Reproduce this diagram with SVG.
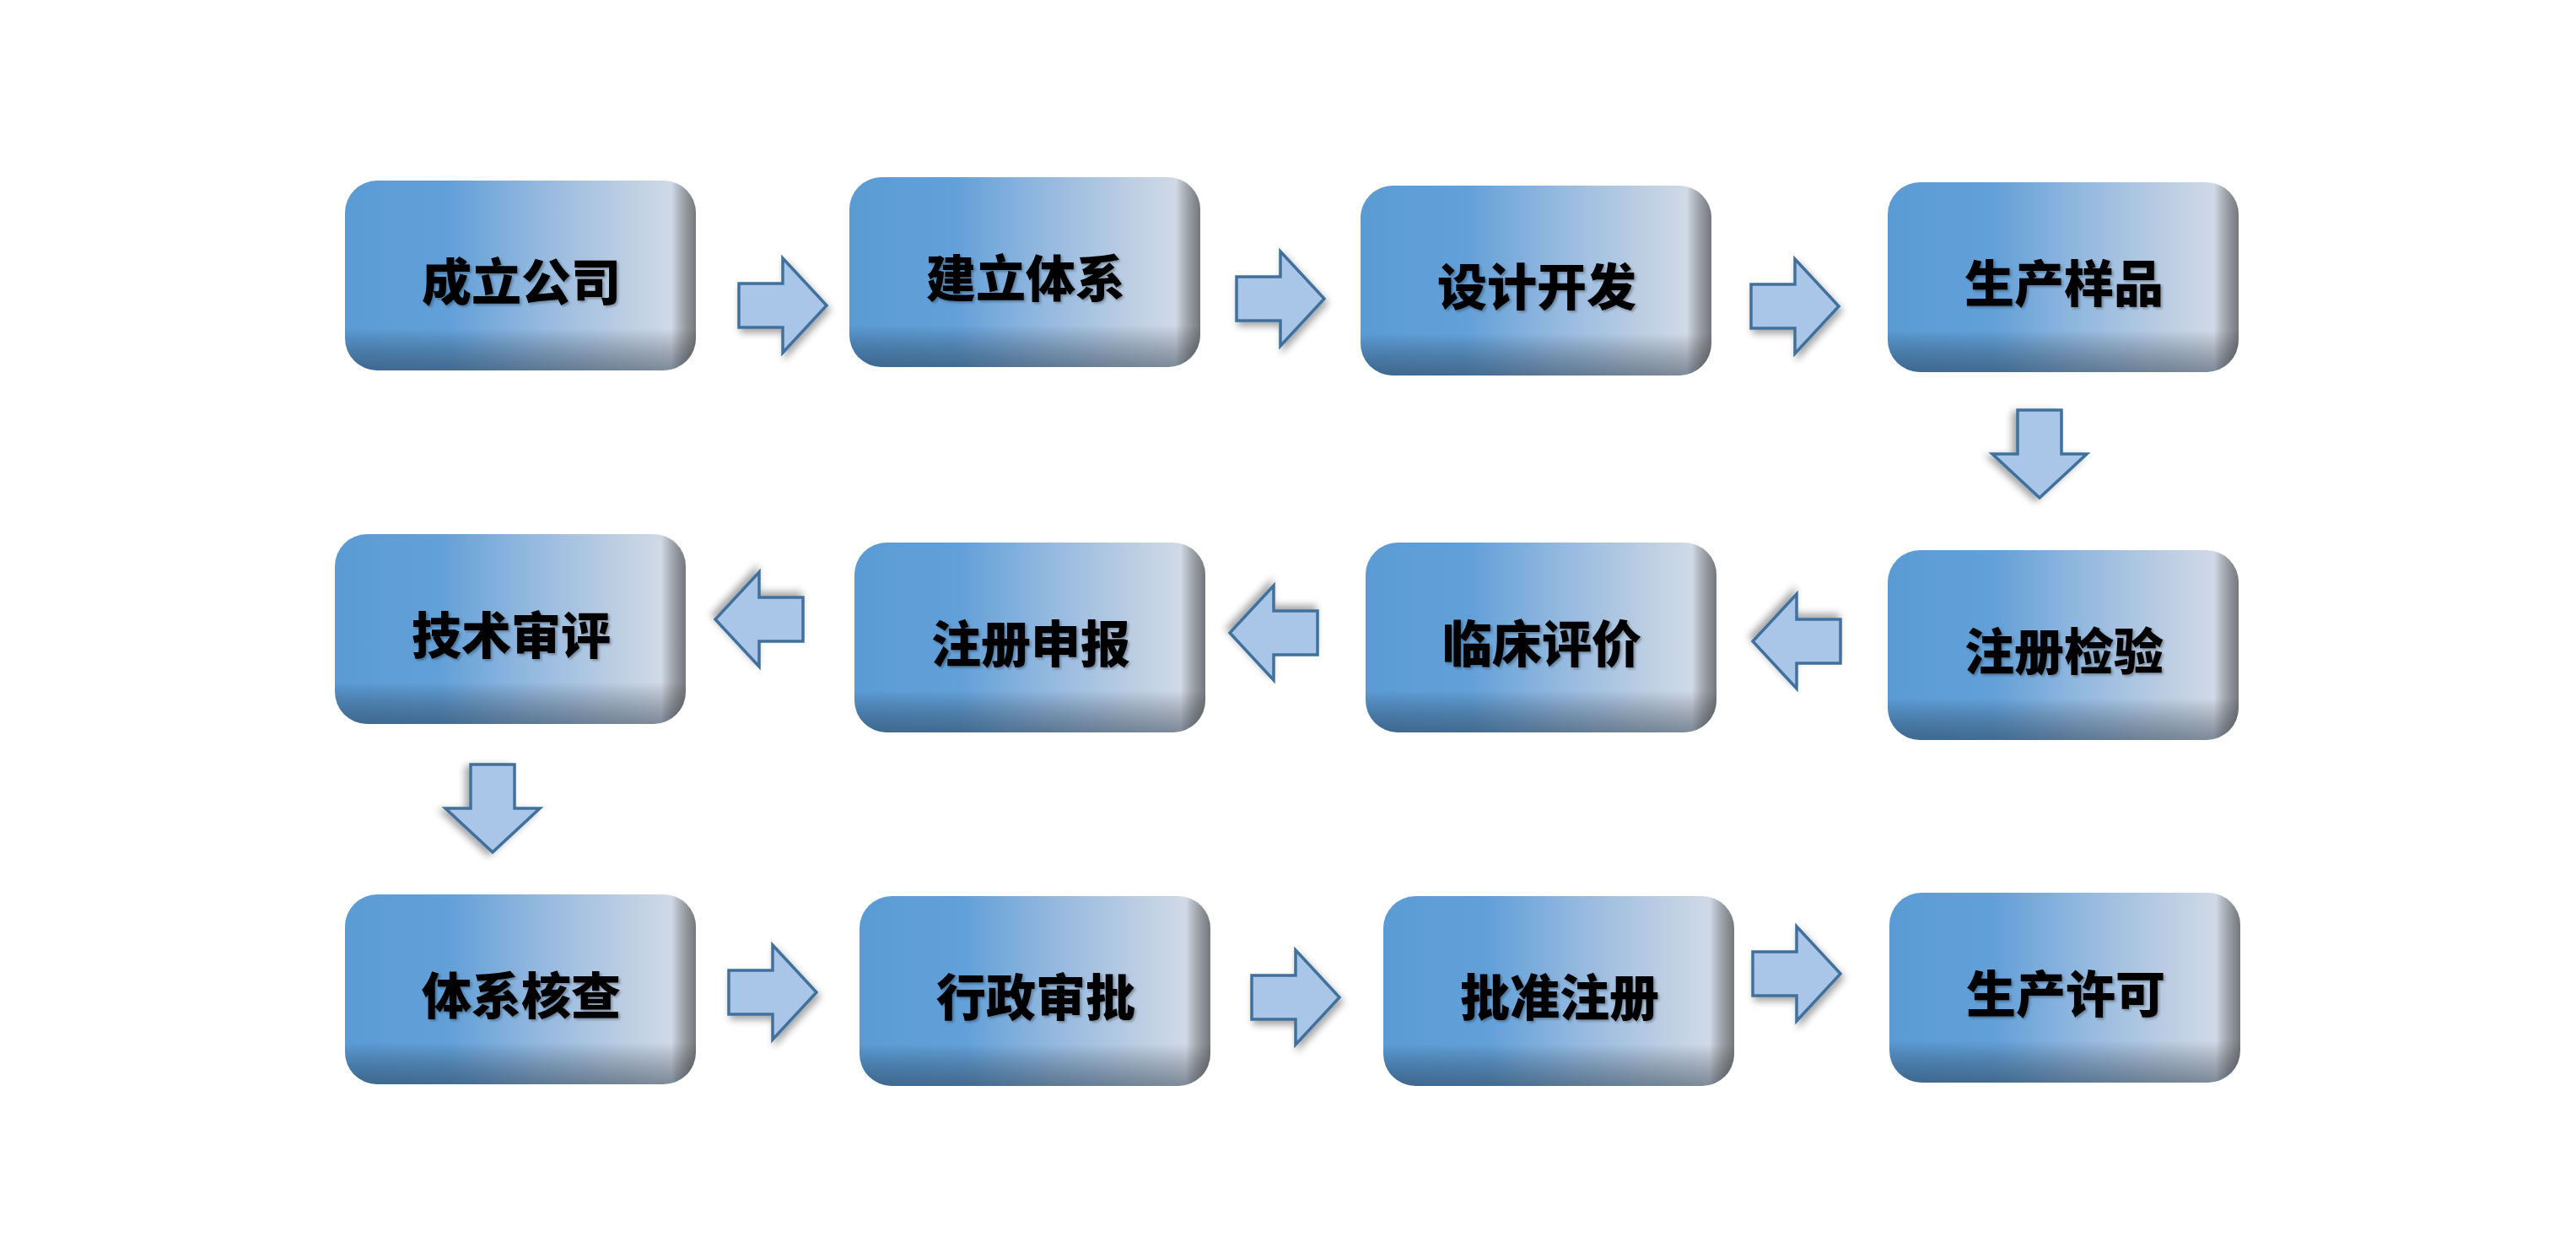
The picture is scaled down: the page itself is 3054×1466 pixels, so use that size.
<svg xmlns="http://www.w3.org/2000/svg" width="3054" height="1466" viewBox="0 0 3054 1466">
<defs>
<linearGradient id="face" x1="0" y1="0" x2="1" y2="0">
<stop offset="0" stop-color="#5b9bd5"/>
<stop offset="0.3" stop-color="#62a0d8"/>
<stop offset="0.55" stop-color="#93b8df"/>
<stop offset="0.8" stop-color="#bccee3"/>
<stop offset="1" stop-color="#dbe0e8"/>
</linearGradient>
<linearGradient id="bottomShade" x1="0" y1="0" x2="0" y2="1">
<stop offset="0" stop-color="#000" stop-opacity="0"/>
<stop offset="0.78" stop-color="#000" stop-opacity="0"/>
<stop offset="1" stop-color="#1a2a3a" stop-opacity="0.45"/>
</linearGradient>
<linearGradient id="rightShade" x1="0" y1="0" x2="1" y2="0">
<stop offset="0" stop-color="#000" stop-opacity="0"/>
<stop offset="0.93" stop-color="#000" stop-opacity="0"/>
<stop offset="1" stop-color="#333" stop-opacity="0.6"/>
</linearGradient>
<filter id="arrowShadow" x="-30%" y="-30%" width="160%" height="160%">
<feDropShadow dx="3" dy="5" stdDeviation="4" flood-color="#000" flood-opacity="0.35"/>
</filter>
<filter id="textShadow" x="-10%" y="-20%" width="120%" height="140%">
<feDropShadow dx="2" dy="2" stdDeviation="1.5" flood-color="#000" flood-opacity="0.3"/>
</filter>
<path id="arr" d="M-52,-26 H0 V-56 L52,0 L0,56 V26 H-52 Z"/>
</defs>
<style>
.face{fill:url(#face)}
.bs{fill:url(#bottomShade)}
.rs{fill:url(#rightShade)}
.lbl{font-family:"Noto Sans CJK SC","Noto Sans",sans-serif;font-weight:900;font-size:59px;fill:#000;text-anchor:middle;dominant-baseline:central;filter:url(#textShadow)}
.arrow{fill:#a9c5e8;stroke:#41719c;stroke-width:3.5;stroke-linejoin:miter;filter:url(#arrowShadow)}
</style>
<rect width="3054" height="1466" fill="#fff"/>

<g id="n1"><rect class="face" x="409" y="214" width="416" height="225" rx="38"/><rect class="bs" x="409" y="214" width="416" height="225" rx="38"/><rect class="rs" x="409" y="214" width="416" height="225" rx="38"/><text class="lbl" x="618" y="330">成立公司</text></g>
<g id="n2"><rect class="face" x="1007" y="210" width="416" height="225" rx="38"/><rect class="bs" x="1007" y="210" width="416" height="225" rx="38"/><rect class="rs" x="1007" y="210" width="416" height="225" rx="38"/><text class="lbl" x="1216" y="326">建立体系</text></g>
<g id="n3"><rect class="face" x="1613" y="220" width="416" height="225" rx="38"/><rect class="bs" x="1613" y="220" width="416" height="225" rx="38"/><rect class="rs" x="1613" y="220" width="416" height="225" rx="38"/><text class="lbl" x="1822" y="336">设计开发</text></g>
<g id="n4"><rect class="face" x="2238" y="216" width="416" height="225" rx="38"/><rect class="bs" x="2238" y="216" width="416" height="225" rx="38"/><rect class="rs" x="2238" y="216" width="416" height="225" rx="38"/><text class="lbl" x="2447" y="332">生产样品</text></g>
<g id="n5"><rect class="face" x="2238" y="652" width="416" height="225" rx="38"/><rect class="bs" x="2238" y="652" width="416" height="225" rx="38"/><rect class="rs" x="2238" y="652" width="416" height="225" rx="38"/><text class="lbl" x="2447" y="768">注册检验</text></g>
<g id="n6"><rect class="face" x="1619" y="643" width="416" height="225" rx="38"/><rect class="bs" x="1619" y="643" width="416" height="225" rx="38"/><rect class="rs" x="1619" y="643" width="416" height="225" rx="38"/><text class="lbl" x="1828" y="759">临床评价</text></g>
<g id="n7"><rect class="face" x="1013" y="643" width="416" height="225" rx="38"/><rect class="bs" x="1013" y="643" width="416" height="225" rx="38"/><rect class="rs" x="1013" y="643" width="416" height="225" rx="38"/><text class="lbl" x="1222" y="759">注册申报</text></g>
<g id="n8"><rect class="face" x="397" y="633" width="416" height="225" rx="38"/><rect class="bs" x="397" y="633" width="416" height="225" rx="38"/><rect class="rs" x="397" y="633" width="416" height="225" rx="38"/><text class="lbl" x="606" y="749">技术审评</text></g>
<g id="n9"><rect class="face" x="409" y="1060" width="416" height="225" rx="38"/><rect class="bs" x="409" y="1060" width="416" height="225" rx="38"/><rect class="rs" x="409" y="1060" width="416" height="225" rx="38"/><text class="lbl" x="618" y="1176">体系核查</text></g>
<g id="n10"><rect class="face" x="1019" y="1062" width="416" height="225" rx="38"/><rect class="bs" x="1019" y="1062" width="416" height="225" rx="38"/><rect class="rs" x="1019" y="1062" width="416" height="225" rx="38"/><text class="lbl" x="1228" y="1178">行政审批</text></g>
<g id="n11"><rect class="face" x="1640" y="1062" width="416" height="225" rx="38"/><rect class="bs" x="1640" y="1062" width="416" height="225" rx="38"/><rect class="rs" x="1640" y="1062" width="416" height="225" rx="38"/><text class="lbl" x="1849" y="1178">批准注册</text></g>
<g id="n12"><rect class="face" x="2240" y="1058" width="416" height="225" rx="38"/><rect class="bs" x="2240" y="1058" width="416" height="225" rx="38"/><rect class="rs" x="2240" y="1058" width="416" height="225" rx="38"/><text class="lbl" x="2449" y="1174">生产许可</text></g>

<g id="connectors">
<use href="#arr" class="arrow" transform="translate(928,362)"/>
<use href="#arr" class="arrow" transform="translate(1518,354)"/>
<use href="#arr" class="arrow" transform="translate(2128,363)"/>
<use href="#arr" class="arrow" transform="translate(2418,538) rotate(90)"/>
<use href="#arr" class="arrow" transform="translate(2130,760) rotate(180)"/>
<use href="#arr" class="arrow" transform="translate(1510,750) rotate(180)"/>
<use href="#arr" class="arrow" transform="translate(900,734) rotate(180)"/>
<use href="#arr" class="arrow" transform="translate(584,958) rotate(90)"/>
<use href="#arr" class="arrow" transform="translate(916,1176)"/>
<use href="#arr" class="arrow" transform="translate(1536,1182)"/>
<use href="#arr" class="arrow" transform="translate(2130,1154)"/>
</g>
</svg>
